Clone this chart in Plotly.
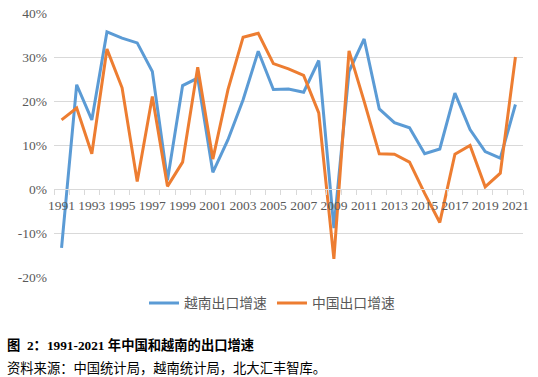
import plotly.graph_objects as go

years = list(range(1991, 2022))
vietnam = [-13.4, 23.7, 15.7, 35.7, 34.3, 33.2, 26.7, 2.0, 23.5, 25.2,
           3.8, 11.2, 20.3, 31.3, 22.6, 22.7, 22.0, 29.2, -8.9, 26.7,
           34.1, 18.2, 15.1, 13.9, 8.0, 9.1, 21.8, 13.5, 8.5, 7.0, 19.2]
china = [15.7, 18.4, 8.0, 31.8, 23.0, 1.7, 21.0, 0.6, 6.1, 27.7,
         6.8, 22.6, 34.5, 35.4, 28.5, 27.3, 25.8, 17.3, -15.9, 31.4,
         19.9, 8.0, 7.9, 6.1, -1.0, -7.6, 7.9, 9.9, 0.5, 3.6, 30.0]
series_names = ["越南出口增速", "中国出口增速"]
y_tick_vals = [-20, -10, 0, 10, 20, 30, 40]
y_tick_text = ["-20%", "-10%", "0%", "10%", "20%", "30%", "40%"]
x_label_years = list(range(1991, 2022, 2))
caption_title = "<b>图  2：1991-2021 年中国和越南的出口增速</b>"
caption_source = "资料来源：中国统计局，越南统计局，北大汇丰智库。"

BLUE = "#5B9BD5"
ORANGE = "#ED7D31"
GRID = "#D9D9D9"
TXT = "#595959"

fig = go.Figure()
fig.add_trace(go.Scatter(x=years, y=vietnam, name=series_names[0], mode="lines",
                         line=dict(color=BLUE, width=3)))
fig.add_trace(go.Scatter(x=years, y=china, name=series_names[1], mode="lines",
                         line=dict(color=ORANGE, width=3)))

y_min, y_max = -20, 40
plot_h = 264
fig.update_layout(
    width=538, height=377,
    margin=dict(l=54, r=15, t=13, b=100, autoexpand=False),
    paper_bgcolor="white", plot_bgcolor="white",
    showlegend=True,
    legend=dict(orientation="h", x=(144 - 54) / 469, xanchor="left",
                y=-26 / plot_h, yanchor="middle",
                font=dict(family="Noto Sans CJK SC", size=13.8, color=TXT),
                itemwidth=30, bgcolor="rgba(0,0,0,0)"),
    xaxis=dict(range=[1990.5, 2021.5], anchor="free", automargin=False,
               position=(0 - y_min) / (y_max - y_min),
               tickmode="array", tickvals=x_label_years,
               ticktext=[str(y) for y in x_label_years],
               ticks="outside", ticklen=4, tickcolor="rgba(0,0,0,0)",
               showgrid=False, zeroline=False,
               showline=True, linecolor=GRID, linewidth=1,
               ticklabeloverflow="allow",
               tickfont=dict(family="Liberation Serif", size=13.5, color=TXT),
               minor=dict(tickmode="array",
                          tickvals=[y + 0.5 for y in range(1990, 2022)],
                          ticks="outside", ticklen=5, tickcolor=GRID,
                          tickwidth=1, showgrid=False)),
    yaxis=dict(range=[y_min, y_max], tickmode="array", automargin=False,
               tickvals=y_tick_vals, ticktext=y_tick_text,
               showgrid=True, gridcolor=GRID, gridwidth=1,
               zeroline=False, showline=False, ticks="",
               ticklabelstandoff=6, ticklabeloverflow="allow",
               tickfont=dict(family="Liberation Serif", size=13.5, color=TXT)),
    annotations=[
        dict(text=caption_title, xref="paper", yref="paper", x=0, y=0,
             xanchor="left", yanchor="middle", xshift=-49, yshift=-68,
             showarrow=False,
             font=dict(family="Liberation Serif, Noto Sans CJK SC", size=13.3, color="#000")),
        dict(text=caption_source, xref="paper", yref="paper", x=0, y=0,
             xanchor="left", yanchor="middle", xshift=-49, yshift=-90,
             showarrow=False,
             font=dict(family="Noto Sans CJK SC", size=13.3, color="#000")),
    ],
)

fig.write_html("out.html", config={"displayModeBar": False},
               post_script="document.body.style.margin='0';")
